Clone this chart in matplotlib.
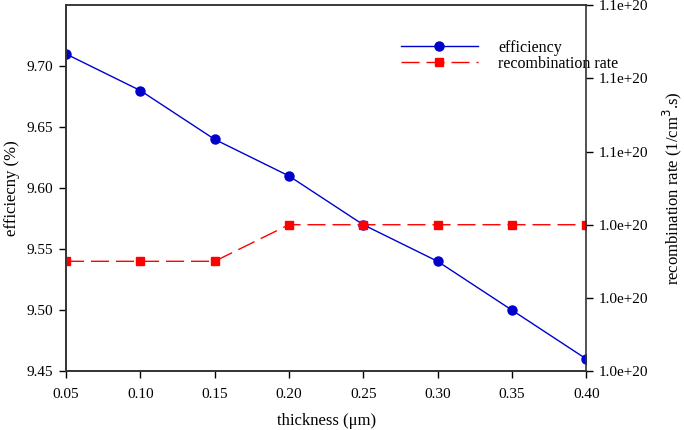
import matplotlib
matplotlib.use("Agg")
import matplotlib.pyplot as plt
from matplotlib.ticker import FormatStrFormatter

thickness = [0.05, 0.10, 0.15, 0.20, 0.25, 0.30, 0.35, 0.40]
efficiency = [9.71, 9.68, 9.64, 9.61, 9.57, 9.54, 9.50, 9.46]
recomb_rate = [1.03e20, 1.03e20, 1.03e20, 1.04e20, 1.04e20, 1.04e20, 1.04e20, 1.04e20]

eff_ticks = [9.45, 9.50, 9.55, 9.60, 9.65, 9.70]
rate_ticks = [1.00e20, 1.02e20, 1.04e20, 1.06e20, 1.08e20, 1.10e20]

plt.rcParams["font.family"] = ["Liberation Serif", "DejaVu Serif"]

fig = plt.figure(figsize=(6.84, 4.30), dpi=100)
ax1 = fig.add_axes([0.0965, 0.137, 0.7605, 0.851])
ax2 = ax1.twinx()

l1, = ax1.plot(thickness, efficiency, color="#0000cc", lw=1.0, marker="o",
               ms=6.5, label="efficiency")
l2, = ax2.plot(thickness, recomb_rate, color="#ff0000", lw=1.0, marker="s",
               ms=6, dashes=(13, 5), label="recombination rate")

ax1.set_xlim(0.05, 0.40)
ax1.set_ylim(9.45, 9.75)
ax1.set_xticks(thickness)
ax1.set_yticks(eff_ticks)
ax1.xaxis.set_major_formatter(FormatStrFormatter("%.2f"))
ax1.yaxis.set_major_formatter(FormatStrFormatter("%.2f"))
ax2.set_ylim(1.00e20, 1.10e20)
ax2.set_yticks(rate_ticks)
ax2.yaxis.set_major_formatter(FormatStrFormatter("%.1e"))

for ax in (ax1, ax2):
    ax.tick_params(direction="out", length=5, width=1, labelsize=11, pad=4)
    for s in ax.spines.values():
        s.set_color("#333333")
        s.set_linewidth(1.2)
ax1.tick_params(axis="x", pad=7)
ax1.spines["right"].set_visible(False)
ax1.spines["top"].set_color("#555555")

ax1.set_xlabel("thickness (\u03bcm)", fontsize=12, labelpad=9)
ax1.set_ylabel("efficiecny (%)", fontsize=12, labelpad=5)
ax2.set_ylabel("recombination rate (1/cm$^3$.s)", fontsize=12, labelpad=9)

ax2.legend([l1, l2], ["efficiency", "recombination rate"], loc="upper left",
           bbox_to_anchor=(393 / 684, 1 - 32 / 430),
           bbox_transform=fig.transFigure, frameon=False, fontsize=11.5,
           handlelength=4.8, handletextpad=1.3, labelspacing=0.0,
           borderpad=0)

fig.savefig("out.png", dpi=100)
